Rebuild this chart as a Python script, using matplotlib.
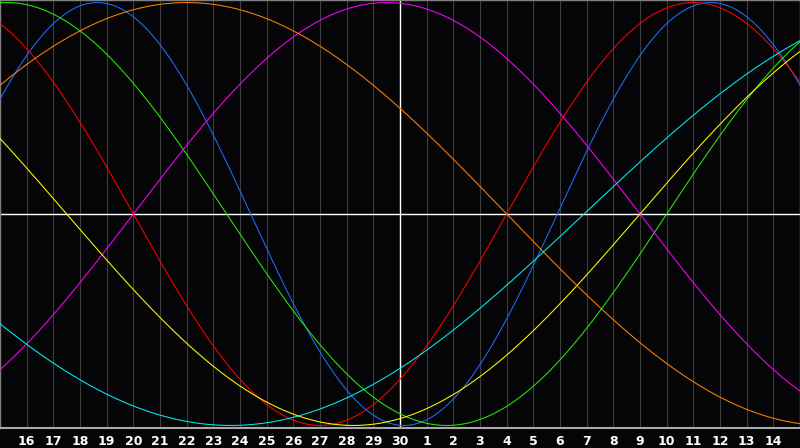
import matplotlib
matplotlib.use("Agg")
import matplotlib.pyplot as plt
import numpy as np

# days shown along the bottom (left edge = day 15, centre line = day 30)
day_labels = [16, 17, 18, 19, 20, 21, 22, 23, 24, 25, 26, 27, 28, 29, 30,
              1, 2, 3, 4, 5, 6, 7, 8, 9, 10, 11, 12, 13, 14]
today_index = 15

# cycle lengths (days) and where each cycle crosses zero going up (days from left edge)
periods = [23, 28, 33, 38, 43, 48, 53]
zero_up = [20.9, 19.0, 25.0, 5.0, 24.0, -5.0, 21.9]
colors = ["#1e6eff", "#ff0000", "#22ee00", "#ff00ff", "#ffff00", "#ff8000", "#00f0f0"]

bg = "#050508"
fig = plt.figure(figsize=(8, 4.48), dpi=100, facecolor=bg)
ax = fig.add_axes([0, 1 - 428 / 448, 1, 428 / 448])
ax.set_facecolor(bg)

n_days = len(day_labels) + 1
t = np.linspace(0, n_days, 1200)

# grid
for i in range(1, n_days):
    ax.axvline(i, color="#3c3c3c", lw=0.8, zorder=1)
ax.axvline(today_index, color="white", lw=1.0, zorder=2)
ax.axhline(0, color="white", lw=1.0, zorder=2)

for p, z, c in zip(periods, zero_up, colors):
    ax.plot(t, np.sin(2 * np.pi * (t - z) / p), color=c, lw=0.75, zorder=3)

ax.set_xlim(0, n_days)
ax.set_ylim(-1.012, 1.012)

ax.set_xticks(range(1, n_days))
ax.set_xticklabels([str(d) for d in day_labels], color="white",
                   fontsize=9, fontweight="bold", family="DejaVu Sans")
ax.tick_params(axis="x", length=0, pad=5)
ax.set_yticks([])

for side in ["top", "left", "right"]:
    ax.spines[side].set_color("#808080")
    ax.spines[side].set_linewidth(1.0)
ax.spines["bottom"].set_color("#a8a8a8")
ax.spines["bottom"].set_linewidth(1.5)

fig.savefig("out.png", dpi=100, facecolor=bg)
